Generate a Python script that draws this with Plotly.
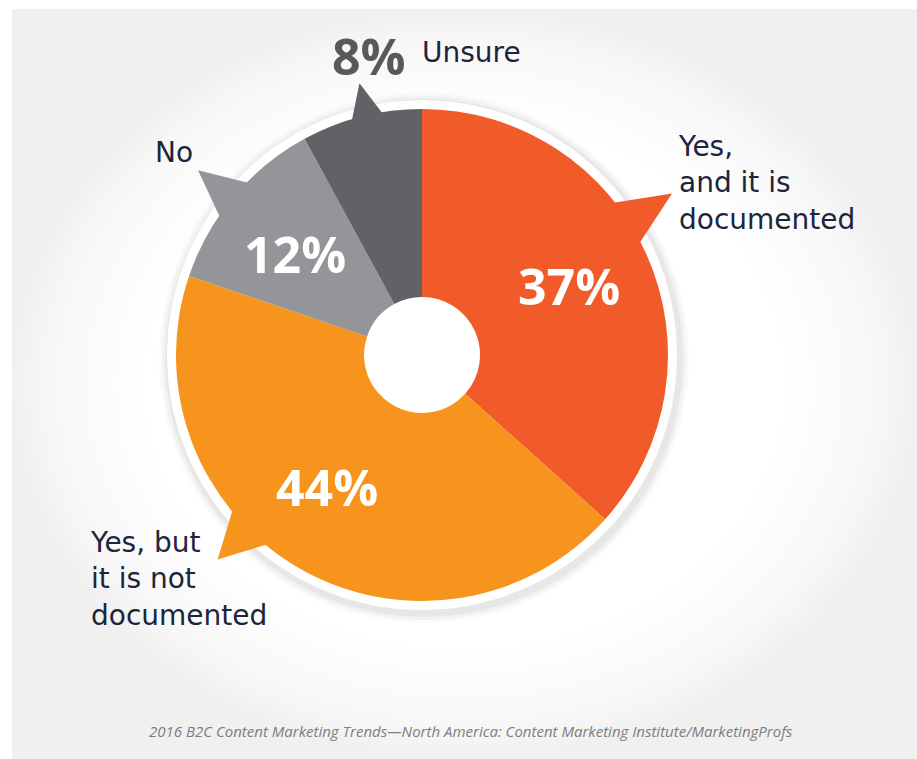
import math
import numpy as np
import plotly.graph_objects as go

# ---------------- data ----------------
categories = ["Yes, and it is documented", "Yes, but it is not documented", "No", "Unsure"]
values = [37, 44, 12, 8]
pct_labels = ["37%", "44%", "12%", "8%"]
label_texts = ["Yes,<br>and it is<br>documented", "Yes, but<br>it is not<br>documented", "No", "Unsure"]
source_text = "2016 B2C Content Marketing Trends\u2014North America: Content Marketing Institute/MarketingProfs"

# ---------------- style ----------------
colors = ["#f15a29", "#f7941d", "#939598", "#616265"]
W, H = 917, 759
CX, CY, R = 422, 355, 246          # pie centre / radius in pixels
HOLE = 58 / 246
TEXT_COLOR = "#20243a"
SANS = "DejaVu Sans"
BOLD = "Open Sans"

# speech-bubble tail styling (relative to each slice's mid angle)
TAIL_OFFSET = [-8.8, 14.7, -0.6, 1.3]
TAIL_HALF = [5.6, 5.7, 5.2, 3.7]
TAIL_TIP = [1.21, 1.175, 1.18, 1.134]
LABEL_OFFSET = [-1.0, 5.4, -1.8]
LABEL_R = 0.66

# ---------------- geometry helpers ----------------
total = sum(values)
mids = []
acc = 0.0
for v in values:
    a0 = acc / total * 360
    a1 = (acc + v) / total * 360
    mids.append((a0 + a1) / 2)
    acc += v


def polar(angle_deg, r):
    a = math.radians(angle_deg)
    return CX + r * math.sin(a), CY - r * math.cos(a)


def circle_pts(cx, cy, r, n=240):
    t = np.linspace(0, 2 * np.pi, n)
    return list(cx + r * np.cos(t)), list(cy + r * np.sin(t))


fig = go.Figure()

# background card with a soft radial vignette
fig.add_trace(go.Scatter(
    x=[12, W, W, 12, 12], y=[9, 9, H, H, 9], mode="lines", line=dict(width=0),
    fill="toself", fillcolor="#f2f2f2",
    fillgradient=dict(type="radial", colorscale=[[0, "#ffffff"], [0.7, "#ffffff"], [0.92, "#f7f7f7"], [1, "#f0f0f0"]]),
    hoverinfo="skip", showlegend=False))

# shadow + white ring around the pie
for dr, op in [(19, 0.02), (16, 0.03), (13, 0.045)]:
    xs, ys = circle_pts(CX + 2, CY + 3, R + dr)
    fig.add_trace(go.Scatter(x=xs, y=ys, mode="lines", line=dict(width=0), fill="toself",
                             fillcolor=f"rgba(0,0,0,{op})", hoverinfo="skip", showlegend=False))
xs, ys = circle_pts(CX, CY, R + 9)
fig.add_trace(go.Scatter(x=xs, y=ys, mode="lines", line=dict(width=0), fill="toself",
                         fillcolor="#ffffff", hoverinfo="skip", showlegend=False))

# speech-bubble tails
for i in range(len(values)):
    ang = mids[i] + TAIL_OFFSET[i]
    p1 = polar(ang - TAIL_HALF[i], R * 0.995)
    tip = polar(ang, R * TAIL_TIP[i])
    p2 = polar(ang + TAIL_HALF[i], R * 0.995)
    fig.add_trace(go.Scatter(x=[p1[0], tip[0], p2[0], p1[0]], y=[p1[1], tip[1], p2[1], p1[1]],
                             mode="lines", line=dict(width=0), fill="toself", fillcolor=colors[i],
                             hoverinfo="skip", showlegend=False))

# the donut
fig.add_trace(go.Pie(
    labels=categories, values=values, sort=False, direction="clockwise", rotation=0,
    hole=HOLE, textinfo="none", marker=dict(colors=colors, line=dict(width=0)),
    domain=dict(x=[(CX - R) / W, (CX + R) / W], y=[1 - (CY + R) / H, 1 - (CY - R) / H]),
    showlegend=False, hoverinfo="label+percent"))

annotations = []
# percentages inside slices
for i in range(3):
    x, y = polar(mids[i] + LABEL_OFFSET[i], R * LABEL_R)
    annotations.append(dict(x=x, y=y, xref="x", yref="y", text=pct_labels[i], showarrow=False,
                            font=dict(family=BOLD, size=50, color="#ffffff", weight=700),
                            xanchor="center", yanchor="middle"))
# outside percentage for smallest slice
annotations.append(dict(x=369, y=56, xref="x", yref="y", text=pct_labels[3], showarrow=False,
                        font=dict(family=BOLD, size=50, color="#58595b", weight=700),
                        xanchor="center", yanchor="middle"))
# category labels
annotations.append(dict(x=676, y=128, xref="x", yref="y", text=label_texts[0], showarrow=False,
                        align="left", xanchor="left", yanchor="top",
                        font=dict(family=SANS, size=28, color=TEXT_COLOR)))
annotations.append(dict(x=88, y=524, xref="x", yref="y", text=label_texts[1], showarrow=False,
                        align="left", xanchor="left", yanchor="top",
                        font=dict(family=SANS, size=28, color=TEXT_COLOR)))
annotations.append(dict(x=153, y=152, xref="x", yref="y", text=label_texts[2], showarrow=False,
                        align="left", xanchor="left", yanchor="middle",
                        font=dict(family=SANS, size=28, color=TEXT_COLOR)))
annotations.append(dict(x=420, y=52, xref="x", yref="y", text=label_texts[3], showarrow=False,
                        align="left", xanchor="left", yanchor="middle",
                        font=dict(family=SANS, size=28, color=TEXT_COLOR)))
# source line
annotations.append(dict(x=471, y=731, xref="x", yref="y", text=source_text, showarrow=False,
                        xanchor="center", yanchor="middle",
                        font=dict(family="Open Sans", size=15, color="#7d7d7d", style="italic")))

fig.update_layout(
    width=W, height=H, margin=dict(l=0, r=0, t=0, b=0),
    paper_bgcolor="#ffffff", plot_bgcolor="rgba(0,0,0,0)",
    xaxis=dict(range=[0, W], visible=False, fixedrange=True, domain=[0, 1]),
    yaxis=dict(range=[H, 0], visible=False, fixedrange=True, domain=[0, 1]),
    annotations=annotations, showlegend=False,
)

fig.write_html("out.html", config={"displayModeBar": False})
